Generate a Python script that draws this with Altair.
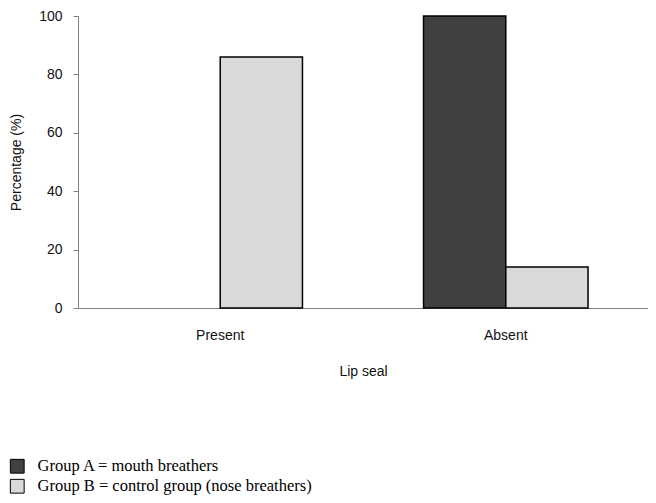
import altair as alt
import pandas as pd

categories = ["Present", "Absent"]
groups = ["Group A = mouth breathers", "Group B = control group (nose breathers)"]
group_a = [0, 100]
group_b = [86, 14]
colors = ["#404040", "#d9d9d9"]
y_ticks = [0, 20, 40, 60, 80, 100]

rows = []
for i, c in enumerate(categories):
    rows.append({"cat": c, "group": groups[0], "value": group_a[i]})
    rows.append({"cat": c, "group": groups[1], "value": group_b[i]})
df = pd.DataFrame(rows)

sans = "Liberation Sans"

chart = alt.Chart(df).mark_bar(strokeWidth=1.5, opacity=1).encode(
    x=alt.X(
        "cat:N", sort=categories,
        scale=alt.Scale(paddingInner=0.424, paddingOuter=0.21),
        axis=alt.Axis(
            title="Lip seal", labelAngle=0, ticks=False, domainColor="#808080",
            labelPadding=20, titlePadding=22, labelFontSize=14, titleFontSize=14,
            labelFont=sans, titleFont=sans, labelColor="#111111", titleColor="#111111",
            titleFontWeight="normal",
        ),
    ),
    xOffset=alt.XOffset("group:N", sort=groups),
    y=alt.Y(
        "value:Q", scale=alt.Scale(domain=[0, 100]),
        axis=alt.Axis(
            title="Percentage (%)", values=y_ticks, grid=False, tickSize=5,
            tickColor="#808080", domainColor="#808080", labelPadding=11,
            titlePadding=15, labelFontSize=14, titleFontSize=14,
            labelFont=sans, titleFont=sans, labelColor="#111111", titleColor="#111111",
            titleFontWeight="normal",
        ),
    ),
    color=alt.Color(
        "group:N", sort=groups,
        scale=alt.Scale(domain=groups, range=colors),
        legend=alt.Legend(
            title=None, orient="none", legendX=-69, legendY=442, direction="vertical",
            symbolType="square", symbolSize=190, symbolStrokeColor="black",
            symbolStrokeWidth=1, symbolOpacity=1, labelFont="Liberation Serif",
            labelFontSize=16.5, labelColor="black", labelOffset=12, rowPadding=1,
            labelLimit=400,
        ),
    ),
    stroke=alt.condition(alt.datum.value > 0, alt.value("black"), alt.value("transparent")),
).properties(
    width=570, height=292,
    autosize=alt.AutoSizeParams(type="none"),
    padding={"left": 70, "top": 8, "right": 0, "bottom": 187},
).configure_view(stroke=None)

chart.save("out.html", embed_options={"renderer": "svg", "actions": False})
